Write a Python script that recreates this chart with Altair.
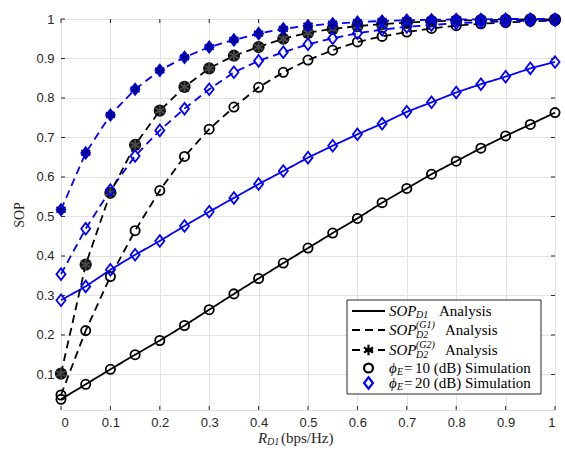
import altair as alt
import pandas as pd

# ---------------- data ----------------
rate = [0, 0.05, 0.1, 0.15, 0.2, 0.25, 0.3, 0.35, 0.4, 0.45, 0.5,
        0.55, 0.6, 0.65, 0.7, 0.75, 0.8, 0.85, 0.9, 0.95, 1.0]

d1_phi10 = [0.037, 0.075, 0.113, 0.150, 0.186, 0.224, 0.264, 0.304, 0.343, 0.382, 0.420,
            0.458, 0.495, 0.535, 0.571, 0.607, 0.640, 0.673, 0.704, 0.733, 0.763]
d1_phi20 = [0.288, 0.323, 0.365, 0.403, 0.438, 0.476, 0.512, 0.547, 0.582, 0.615, 0.649,
            0.679, 0.708, 0.735, 0.765, 0.789, 0.814, 0.835, 0.854, 0.875, 0.891]
g1_phi10 = [0.048, 0.211, 0.348, 0.464, 0.566, 0.652, 0.721, 0.777, 0.827, 0.865, 0.896,
            0.921, 0.942, 0.956, 0.967, 0.976, 0.983, 0.988, 0.991, 0.994, 0.996]
g1_phi20 = [0.354, 0.469, 0.567, 0.653, 0.718, 0.773, 0.822, 0.865, 0.894, 0.916, 0.936,
            0.951, 0.964, 0.973, 0.980, 0.985, 0.989, 0.992, 0.994, 0.996, 0.997]
g2_phi10 = [0.102, 0.378, 0.560, 0.681, 0.768, 0.828, 0.875, 0.907, 0.929, 0.950, 0.965,
            0.975, 0.982, 0.987, 0.991, 0.994, 0.996, 0.997, 0.998, 0.999, 0.999]
g2_phi20 = [0.517, 0.661, 0.757, 0.822, 0.870, 0.903, 0.929, 0.947, 0.963, 0.975, 0.983,
            0.988, 0.992, 0.995, 0.997, 0.998, 0.999, 0.999, 1.000, 1.000, 1.000]

series_names = ["d1_10", "d1_20", "g1_10", "g1_20", "g2_10", "g2_20"]
series_vals = [d1_phi10, d1_phi20, g1_phi10, g1_phi20, g2_phi10, g2_phi20]
series_color = ["#000000", "#0000ff", "#000000", "#0000ff", "#000000", "#0000ff"]
series_dash = [[1, 0], [1, 0], [8, 5], [8, 5], [8, 5], [8, 5]]

x_ticks = [0, 0.1, 0.2, 0.3, 0.4, 0.5, 0.6, 0.7, 0.8, 0.9, 1.0]
y_ticks = [0.1, 0.2, 0.3, 0.4, 0.5, 0.6, 0.7, 0.8, 0.9, 1.0]

rows = []
for name, vals in zip(series_names, series_vals):
    for xv, yv in zip(rate, vals):
        rows.append({"x": xv, "y": yv, "s": name})
df = pd.DataFrame(rows)

W, H = 494, 391
AX = "#262626"
SERIF = "Liberation Serif"
SANS = "Liberation Sans"
DIAMOND = "M0,-1L0.78,0L0,1L-0.78,0Z"
STAR = "M0,-1L0,1M-0.87,-0.5L0.87,0.5M-0.87,0.5L0.87,-0.5"

xs = alt.Scale(domain=[0, 1], nice=False, zero=False)
ys = alt.Scale(domain=[0.01, 1], nice=False, zero=False)

xax = alt.Axis(values=x_ticks, format="~g", title=None, grid=True, gridColor="#e3e3e3",
               ticks=False, domain=False, labelFont=SANS, labelFontSize=13,
               labelColor=AX, labelPadding=6)
yax = alt.Axis(values=y_ticks, format="~g", title="SOP", grid=True, gridColor="#e3e3e3",
               ticks=False, domain=False, labelFont=SANS, labelFontSize=13,
               labelColor=AX, labelPadding=7, titleFont=SERIF, titleFontSize=14,
               titleFontWeight="normal", titleColor=AX, titlePadding=9)

base = alt.Chart(df)

lines = base.mark_line(strokeWidth=1.8).encode(
    x=alt.X("x:Q", scale=xs, axis=xax),
    y=alt.Y("y:Q", scale=ys, axis=yax),
    color=alt.Color("s:N", scale=alt.Scale(domain=series_names, range=series_color), legend=None),
    strokeDash=alt.StrokeDash("s:N", scale=alt.Scale(domain=series_names, range=series_dash), legend=None),
    detail="s:N",
)

def pts(names, shape, color, filled, size):
    return base.transform_filter(
        alt.FieldOneOfPredicate(field="s", oneOf=names)
    ).mark_point(shape=shape, filled=filled, size=size, strokeWidth=1.8,
                 color=color, opacity=1).encode(
        x=alt.X("x:Q", scale=xs), y=alt.Y("y:Q", scale=ys))

g2_black = pts(["g2_10"], "circle", "#111111", True, 150)
g2_black_star = pts(["g2_10"], STAR, "#4a4a4a", False, 110)
g2_blue = pts(["g2_20"], DIAMOND, "#0000ff", True, 200)
g2_blue_star = pts(["g2_20"], STAR, "#000088", False, 110)
open_black = pts(["d1_10", "g1_10"], "circle", "#000000", False, 85)
open_blue = pts(["d1_20", "g1_20"], DIAMOND, "#0000ff", False, 135)

# inward ticks on all four sides
xt = alt.Chart(pd.DataFrame({"t": x_ticks}))
yt = alt.Chart(pd.DataFrame({"t": y_ticks}))
tk = dict(color=AX, strokeWidth=1)
ticks = [
    xt.mark_rule(**tk).encode(x=alt.X("t:Q", scale=xs), y=alt.value(H), y2=alt.value(H - 4)),
    xt.mark_rule(**tk).encode(x=alt.X("t:Q", scale=xs), y=alt.value(0), y2=alt.value(4)),
    yt.mark_rule(**tk).encode(y=alt.Y("t:Q", scale=ys), x=alt.value(0), x2=alt.value(4)),
    yt.mark_rule(**tk).encode(y=alt.Y("t:Q", scale=ys), x=alt.value(W), x2=alt.value(W - 4)),
]

one = alt.Chart(pd.DataFrame({"a": [0]}))

def txt(s, x, y, size=15, italic=False, color="#000000"):
    kw = dict(text=s, align="left", baseline="middle", font=SERIF, fontSize=size, color=color)
    if italic:
        kw["fontStyle"] = "italic"
    return one.mark_text(**kw).encode(x=alt.value(x), y=alt.value(y))

# x-axis title  R_D1 (bps/Hz)
OX, OY = 61, 19
ty = 438 - OY
xtitle = [
    txt("R", 258 - OX, ty, 15, True, AX),
    txt("D1", 267 - OX, ty + 4, 10, True, AX),
    txt("(bps/Hz)", 281 - OX, ty, 15, False, AX),
]

# legend
lx0, lx1 = 347 - OX, 541 - OX
ly0, ly1 = 300 - OY, 394 - OY
r = [311 - OY, 330 - OY, 350 - OY, 368 - OY, 383 - OY]
sx0, sx1, sxm = 352 - OX, 385 - OX, 368.5 - OX
tx = 389 - OX

legend = [one.mark_rect(fill="white", stroke=AX, strokeWidth=1).encode(
    x=alt.value(lx0), x2=alt.value(lx1), y=alt.value(ly0), y2=alt.value(ly1))]
legend.append(one.mark_rule(color="black", strokeWidth=1.8).encode(
    x=alt.value(sx0), x2=alt.value(sx1), y=alt.value(r[0])))
legend.append(one.mark_rule(color="black", strokeWidth=1.8, strokeDash=[8, 5]).encode(
    x=alt.value(sx0), x2=alt.value(sx1), y=alt.value(r[1])))
legend.append(one.mark_rule(color="black", strokeWidth=1.8, strokeDash=[8, 5]).encode(
    x=alt.value(sx0), x2=alt.value(sx1), y=alt.value(r[2])))
legend.append(one.mark_point(shape=STAR, color="black", size=110, strokeWidth=2.2, opacity=1).encode(
    x=alt.value(sxm), y=alt.value(r[2])))
legend.append(one.mark_point(shape="circle", color="black", size=80, strokeWidth=2.2, opacity=1).encode(
    x=alt.value(sxm), y=alt.value(r[3])))
legend.append(one.mark_point(shape=DIAMOND, color="#0000ff", size=130, strokeWidth=2.2, opacity=1).encode(
    x=alt.value(sxm), y=alt.value(r[4])))

legend += [
    txt("SOP", tx, r[0], 15, True),
    txt("D1", tx + 27, r[0] + 4, 10, True),
    txt("Analysis", tx + 50, r[0], 15),
]
for i, g in [(1, "(G1)"), (2, "(G2)")]:
    legend += [
        txt("SOP", tx, r[i], 15, True),
        txt(g, tx + 27, r[i] - 5, 10, True),
        txt("D2", tx + 27, r[i] + 5, 10, True),
        txt("Analysis", tx + 56, r[i], 15),
    ]
for i, v in [(3, "10"), (4, "20")]:
    legend += [
        txt("\u03d5", tx, r[i], 15, True),
        txt("E", tx + 8, r[i] + 4, 10, True),
        txt("=", tx + 15, r[i], 15),
        txt(v + " (dB) Simulation", tx + 26, r[i], 15),
    ]

chart = alt.layer(
    lines, g2_black, g2_black_star, g2_blue, g2_blue_star, open_black, open_blue,
    *ticks, *xtitle, *legend
).properties(
    width=W, height=H,
    autosize=alt.AutoSizeParams(type="none"),
    padding={"left": OX, "top": OY, "right": 565 - OX - W, "bottom": 455 - OY - H},
).configure_view(stroke=AX, strokeWidth=1).configure(background="white")

chart.save("out.html", embed_options={"renderer": "svg", "actions": False})
